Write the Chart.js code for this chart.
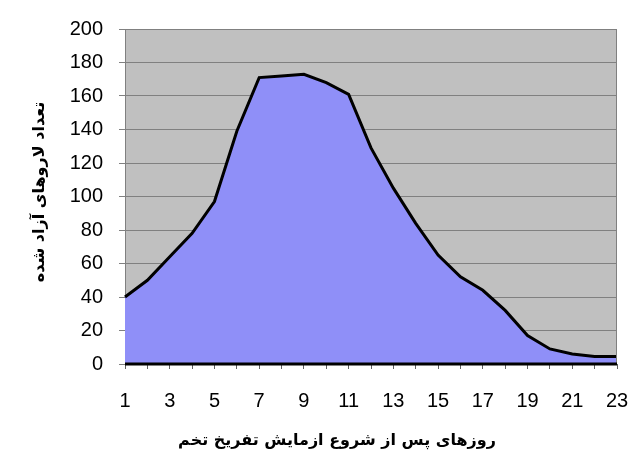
<!DOCTYPE html>
<html>
<head>
<meta charset="utf-8">
<script src="https://cdn.jsdelivr.net/npm/chart.js@4"></script>
<style>
  html, body { margin: 0; padding: 0; background: #fff; }
  #wrap { width: 631px; height: 466px; }
</style>
</head>
<body>
<div id="wrap"><canvas id="myChart" width="631" height="466"></canvas></div>
<script>
// days after start of hatching test
const days = ["1","2","3","4","5","6","7","8","9","10","11","12","13","14","15","16","17","18","19","20","21","22","23"];
// number of released larvae
const larvae = [40, 50, 64, 78, 97, 139, 171, 172, 173, 168, 161, 129, 105, 84, 65, 52, 44, 32, 17, 9, 6, 4.5, 4.5];
const yTitle = "تعداد لاروهای آزاد شده";
const xTitle = "روزهای پس از شروع ازمایش تفریخ تخم";

// grey plot background + titles drawn by hand
const plotBg = {
  id: "plotBg",
  beforeDraw: (chart) => {
    const { ctx, chartArea: a } = chart;
    ctx.save();
    ctx.fillStyle = "#c0c0c0";
    ctx.fillRect(a.left, a.top, a.right - a.left, a.bottom - a.top);
    ctx.restore();
  },
  afterDraw: (chart) => {
    const { ctx, chartArea: a } = chart;
    ctx.save();
    ctx.strokeStyle = "#808080";
    ctx.lineWidth = 1;
    ctx.beginPath();
    ctx.moveTo(a.left, a.top + 0.5);
    ctx.lineTo(a.right - 0.5, a.top + 0.5);
    ctx.lineTo(a.right - 0.5, a.bottom);
    ctx.stroke();
    ctx.strokeStyle = "#000";
    ctx.lineWidth = 3;
    ctx.beginPath();
    ctx.moveTo(a.left, a.bottom);
    ctx.lineTo(a.right, a.bottom);
    ctx.stroke();

    ctx.fillStyle = "#000";
    ctx.font = "bold 16px 'DejaVu Sans'";
    ctx.textAlign = "center";
    ctx.textBaseline = "middle";
    ctx.direction = "rtl";
    ctx.fillText(xTitle, 337, 441);
    ctx.translate(40, 192);
    ctx.rotate(-Math.PI / 2);
    ctx.fillText(yTitle, 0, 0);
    ctx.restore();
  },
};

const data = {
  labels: days,
  datasets: [
    {
      label: yTitle,
      data: larvae,
      fill: "origin",
      backgroundColor: "#8f8ff8",
      borderColor: "#000",
      borderWidth: 3,
      pointRadius: 0,
      tension: 0,
    },
  ],
};

const config = {
  type: "line",
  data: data,
  options: {
    responsive: false,
    animation: false,
    layout: { padding: { left: 0, right: 0, top: 29, bottom: 0 } },
    plugins: { legend: { display: false }, tooltip: { enabled: false } },
    scales: {
      x: {
        offset: false,
        afterFit: (s) => { s.height = 102; s.paddingRight = 14; },
        grid: { drawOnChartArea: false, drawTicks: true, tickLength: 5, color: "#606060" },
        border: { display: false },
        ticks: {
          autoSkip: false,
          maxRotation: 0,
          padding: 20,
          color: "#000",
          font: { family: "'Liberation Sans', Arial", size: 20 },
          callback: function (v, i) { return i % 2 === 0 ? days[i] : ""; },
        },
      },
      y: {
        min: 0,
        max: 200,
        afterFit: (s) => { s.width = 125; },
        grid: { color: "#808080", tickLength: 6 },
        border: { color: "#808080" },
        ticks: {
          stepSize: 20,
          padding: 16,
          color: "#000",
          font: { family: "'Liberation Sans', Arial", size: 20 },
        },
      },
    },
  },
  plugins: [plotBg],
};

const myChart = new Chart(document.getElementById("myChart"), config);
</script>
</body>
</html>
